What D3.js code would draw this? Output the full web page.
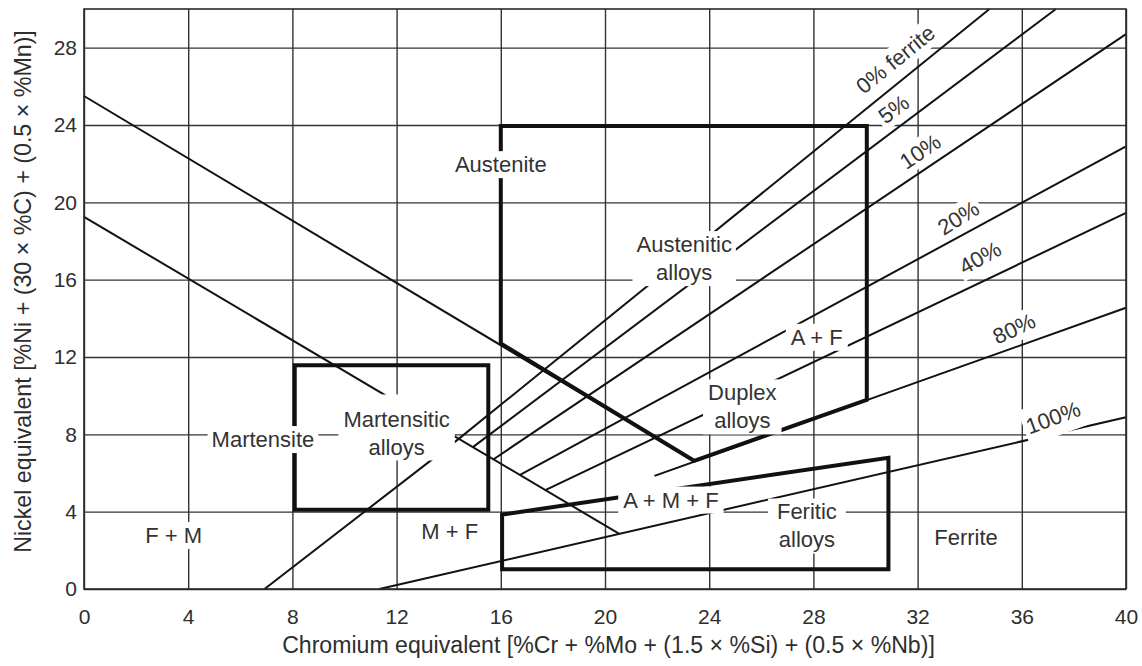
<!DOCTYPE html>
<html><head><meta charset="utf-8">
<script src="https://cdn.jsdelivr.net/npm/d3@7"></script>
<style>
html,body{margin:0;padding:0;background:#fff;}
svg{display:block;}
text{font-family:"Liberation Sans",Arial,Helvetica,sans-serif;}
</style></head><body>
<svg id="chart" width="1142" height="666"></svg>
<script>
// ---------- data ----------
const xTicks = [0,4,8,12,16,20,24,28,32,36,40];
const yTicks = [0,4,8,12,16,20,24,28];
const xDomain = [0,40];
const yDomain = [0,30];

const ferriteLabels = ["0% ferrite","5%","10%","20%","40%","80%","100%"];
const ferriteStart  = [[14.36,7.74],[14.94,7.35],[15.71,6.70],[16.74,5.90],[17.69,5.10],[21.90,5.85],[11.34,0]];
const ferriteEnd    = [[34.76,30],[37.31,30],[40,28.7],[40,22.9],[40,19.45],[40,14.55],[40,8.88]];
const ferriteLabelPos = [[31.15,27.4],[31.08,24.82],[32.1,22.63],[33.56,19.2],[34.4,17.14],[35.7,13.47],[37.2,8.87]];

const upperBoundary = [[0,25.5],[23.42,6.63]];
const lowerBoundary = [[0,19.25],[20.55,2.85]];
const mfBoundary    = [[6.93,0],[14.36,7.74]];

const austeniticRegion  = [[16,12.7],[16,23.95],[30.05,23.95],[30.05,9.78],[23.42,6.63]];
const martensiticRegion = [[8.09,4.1],[8.09,11.57],[15.52,11.57],[15.52,4.1]];
const ferriticRegion    = [[16.05,3.85],[30.88,6.79],[30.88,1.02],[16.05,1.02]];

const regionLabels = [["Austenite"],["Austenitic","alloys"],["A + F"],["Duplex","alloys"],["A + M + F"],
  ["Feritic","alloys"],["Ferrite"],["M + F"],["F + M"],["Martensite"],["Martensitic","alloys"]];
const regionLabelPos = [[16,21.96],[23.04,17.1],[28.13,13.03],[25.27,9.43],[22.53,4.61],
  [27.75,3.27],[33.86,2.7],[14.04,2.99],[3.44,2.78],[6.87,7.74],[12,8.03]];

const xTitle = "Chromium equivalent [%Cr + %Mo + (1.5 \u00d7 %Si) + (0.5 \u00d7 %Nb)]";
const yTitle = "Nickel equivalent [%Ni + (30 \u00d7 %C) + (0.5 \u00d7 %Mn)]";

// ---------- layout ----------
const ferriteLabelAngle = [-39,-36.5,-34,-32,-29,-25,-20];
const ferriteLabelPad = [1,1,1,1,1,1,6];
// [horizontal, top, bottom] background padding per region label
const regionLabelPad = [[5,1,1],[4,1,1],[5,1,1],[5,1,1],[5,1,1],[9,1,1],[5,1,1],[5,1,1],[5,1,1],[4,1,1],[5,13,0]];

const svg = d3.select("#chart");
const x = d3.scaleLinear().domain(xDomain).range([84,1126]);
const y = d3.scaleLinear().domain(yDomain).range([589,9]);
const W = x(40)-x(0), H = y(0)-y(30);

// grid + axes
const gx = svg.append("g").attr("transform",`translate(0,${y(0)})`)
  .call(d3.axisBottom(x).tickValues(xTicks).tickSizeInner(-H).tickSizeOuter(0).tickPadding(20).tickFormat(d3.format("d")));
gx.select(".domain").remove();
gx.selectAll(".tick line").attr("stroke","#333").attr("stroke-width",1.4);
gx.selectAll(".tick text").attr("font-size",21).attr("fill","#2e2e2e");

const gy = svg.append("g").attr("transform",`translate(${x(0)},0)`)
  .call(d3.axisLeft(y).tickValues(yTicks).tickSizeInner(-W).tickSizeOuter(0).tickPadding(7).tickFormat(d3.format("d")));
gy.select(".domain").remove();
gy.selectAll(".tick line").attr("stroke","#333").attr("stroke-width",1.4);
gy.selectAll(".tick text").attr("font-size",21).attr("fill","#2e2e2e");

const line = d3.line().x(d=>x(d[0])).y(d=>y(d[1]));

// thin lines
const thin = svg.append("g").attr("fill","none").attr("stroke","#111").attr("stroke-width",2);
ferriteStart.forEach((s,i)=>{ thin.append("path").attr("d", line([s, ferriteEnd[i]])); });
[upperBoundary, lowerBoundary, mfBoundary].forEach(seg=>thin.append("path").attr("d", line(seg)));

// thick region outlines
const thick = svg.append("g").attr("fill","none").attr("stroke","#111").attr("stroke-width",4).attr("stroke-linejoin","miter");
[austeniticRegion, martensiticRegion, ferriticRegion].forEach(p=>thick.append("path").attr("d", line(p)+"Z"));

// labels
const labels = svg.append("g");
regionLabels.forEach((lines,i)=>{
  const p = regionLabelPos[i];
  const pad = regionLabelPad[i];
  const g = labels.append("g").attr("transform",`translate(${x(p[0])},${y(p[1])})`);
  const t = g.append("text").attr("text-anchor","middle").attr("font-size",22).attr("fill","#333");
  const n = lines.length;
  lines.forEach((s,k)=>{
    t.append("tspan").attr("x",0).attr("y",(k-(n-1)/2)*28).attr("dy","0.35em").text(s);
  });
  const bb = t.node().getBBox();
  g.insert("rect","text").attr("x",bb.x-pad[0]).attr("y",bb.y-pad[1])
    .attr("width",bb.width+2*pad[0]).attr("height",bb.height+pad[1]+pad[2]).attr("fill","#fff");
});

ferriteLabels.forEach((s,i)=>{
  const p = ferriteLabelPos[i];
  const g = labels.append("g").attr("transform",`translate(${x(p[0])},${y(p[1])}) rotate(${ferriteLabelAngle[i]})`);
  const t = g.append("text").attr("text-anchor","middle").attr("dy","0.35em").attr("font-size",22).attr("fill","#333").text(s);
  const bb = t.node().getBBox();
  const pd = ferriteLabelPad[i];
  g.insert("rect","text").attr("x",bb.x-3).attr("y",bb.y-pd).attr("width",bb.width+6).attr("height",bb.height+2*pd).attr("fill","#fff");
});

// frame
svg.append("rect").attr("x",x(0)).attr("y",y(30)).attr("width",W).attr("height",H)
  .attr("fill","none").attr("stroke","#2a2a2a").attr("stroke-width",1.6);

// axis titles
const xt = svg.append("text").attr("text-anchor","middle").attr("x",608.5).attr("y",653)
  .attr("font-size",20).attr("fill","#2e2e2e").text(xTitle);
xt.attr("font-size", 20*653/xt.node().getComputedTextLength());

const yt = svg.append("text").attr("text-anchor","middle").attr("transform","translate(31,291.5) rotate(-90)")
  .attr("font-size",20).attr("fill","#2e2e2e").text(yTitle);
yt.attr("font-size", 20*523/yt.node().getComputedTextLength());
</script>
</body></html>
